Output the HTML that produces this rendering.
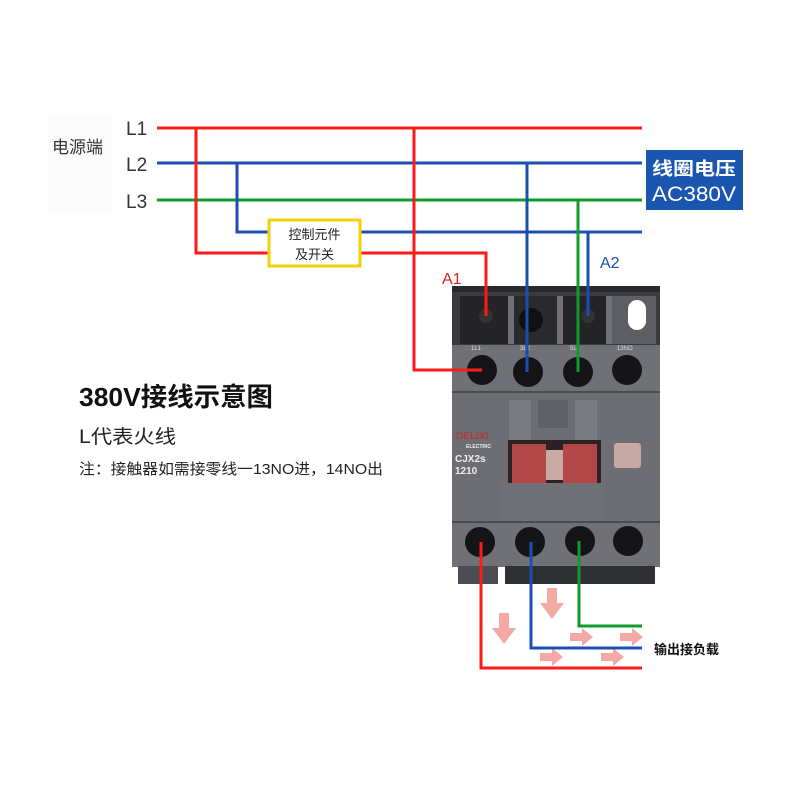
<!DOCTYPE html>
<html><head><meta charset="utf-8"><style>
html,body{margin:0;padding:0;background:#fff;}
svg{display:block;}
text{font-family:"Liberation Sans","Noto Sans CJK SC",sans-serif;}
</style></head><body>
<svg width="800" height="800" viewBox="0 0 800 800" xmlns="http://www.w3.org/2000/svg">
<rect width="800" height="800" fill="#fff"/>
<rect x="48" y="115" width="64" height="98" fill="#fbfbfb"/>
<text x="52" y="153" font-size="17" fill="#333">电源端</text>
<text x="126" y="135" font-size="19" fill="#333">L1</text>
<text x="126" y="171" font-size="19" fill="#333">L2</text>
<text x="126" y="208" font-size="19" fill="#333">L3</text>

<g>
<rect x="452" y="286" width="208" height="8" fill="#2a2a2c"/>
<rect x="452" y="292" width="208" height="54" fill="#3a3b3f"/>
<rect x="460" y="296" width="50" height="48" fill="#242427"/>
<rect x="508" y="296" width="6" height="48" fill="#707177"/>
<rect x="514" y="296" width="45" height="48" fill="#2a2a2d"/>
<rect x="557" y="296" width="6" height="48" fill="#707177"/>
<rect x="563" y="296" width="45" height="48" fill="#242427"/>
<rect x="606" y="296" width="6" height="48" fill="#707177"/>
<rect x="612" y="296" width="44" height="48" fill="#5d5e63"/>
<rect x="628" y="300" width="18" height="30" rx="9" fill="#fff"/>
<circle cx="531" cy="320" r="12" fill="#111"/>
<circle cx="486" cy="316" r="7" fill="#333"/>
<circle cx="588" cy="316" r="7" fill="#333"/>
<rect x="452" y="345" width="208" height="48" fill="#707177"/>
<text x="471" y="350" font-size="6" fill="#ddd">1L1</text>
<text x="520" y="350" font-size="6" fill="#ddd">3L2</text>
<text x="570" y="350" font-size="6" fill="#ddd">5L3</text>
<text x="617" y="350" font-size="6" fill="#ddd">13NO</text>
<circle cx="482" cy="370" r="15" fill="#151518"/>
<circle cx="528" cy="372" r="15" fill="#151518"/>
<circle cx="578" cy="372" r="15" fill="#151518"/>
<circle cx="627" cy="370" r="15" fill="#151518"/>
<rect x="452" y="392" width="208" height="130" fill="#6d6e73"/>
<line x1="452" y1="392" x2="660" y2="392" stroke="#4a4b4f" stroke-width="2"/>
<rect x="538" y="400" width="30" height="28" fill="#5f6065"/>
<rect x="509" y="400" width="22" height="45" fill="#7a7b80"/>
<rect x="575" y="400" width="22" height="45" fill="#7a7b80"/>
<rect x="508" y="440" width="93" height="44" fill="#2a2223"/>
<rect x="512" y="444" width="34" height="40" fill="#b2474a"/>
<rect x="563" y="444" width="34" height="40" fill="#b2474a"/>
<rect x="546" y="450" width="17" height="30" fill="#c9a9a3"/>
<rect x="500" y="483" width="105" height="38" fill="#707176"/>
<rect x="614" y="443" width="27" height="25" rx="3" fill="#c7a8a2"/>
<text x="456" y="439" font-size="10" font-weight="bold" fill="#b23a38">DELIXI</text>
<text x="466" y="448" font-size="5" font-weight="bold" fill="#eee">ELECTRIC</text>
<text x="455" y="462" font-size="10" font-weight="bold" fill="#eee">CJX2s</text>
<text x="455" y="474" font-size="10" font-weight="bold" fill="#eee">1210</text>
<rect x="452" y="521" width="208" height="46" fill="#707177"/>
<line x1="452" y1="522" x2="660" y2="522" stroke="#4a4b4f" stroke-width="2"/>
<circle cx="480" cy="542" r="15" fill="#151518"/>
<circle cx="530" cy="542" r="15" fill="#151518"/>
<circle cx="580" cy="541" r="15" fill="#151518"/>
<circle cx="628" cy="541" r="15" fill="#151518"/>
<rect x="458" y="566" width="40" height="18" fill="#4c4d52"/>
<rect x="505" y="566" width="150" height="18" fill="#2e2f33"/>
</g>

<g fill="#f4a9a4">
<path d="M499 613h10v15h7l-12 16-12-16h7z"/>
<path d="M547 588h10v15h7l-12 16-12-16h7z"/>
<path d="M570 633h12v-5l11 9-11 9v-5h-12z"/>
<path d="M620 633h12v-5l11 9-11 9v-5h-12z"/>
<path d="M540 653h12v-5l11 9-11 9v-5h-12z"/>
<path d="M601 653h12v-5l11 9-11 9v-5h-12z"/>
</g>

<g fill="none" stroke-width="3">
<path d="M157 128H642" stroke="#ff1a1a"/>
<path d="M157 163H642" stroke="#1a4fb0"/>
<path d="M157 200H642" stroke="#129a2a"/>
<path d="M196 128V253H268M360 253H486V316" stroke="#ff1a1a"/>
<path d="M237 163V232H268M360 232H642" stroke="#1a4fb0"/>
<path d="M414 128V370H482" stroke="#ff1a1a"/>
<path d="M527 163V372" stroke="#1a4fb0"/>
<path d="M578 200V372" stroke="#129a2a"/>
<path d="M588 232V316" stroke="#1a4fb0"/>
<path d="M481 542V668H642" stroke="#ff1a1a"/>
<path d="M531 542V648H642" stroke="#1a4fb0"/>
<path d="M579 541V626H642" stroke="#129a2a"/>
</g>

<rect x="269" y="220" width="91" height="46" fill="#fff" stroke="#f5d000" stroke-width="3"/>
<text x="314.5" y="239" font-size="13" fill="#222" text-anchor="middle">控制元件</text>
<text x="314.5" y="259" font-size="13" fill="#222" text-anchor="middle">及开关</text>

<text x="442" y="284" font-size="16" fill="#e02020">A1</text>
<text x="600" y="268" font-size="16" fill="#1a4fb0">A2</text>

<rect x="646" y="150" width="97" height="60" fill="#1a56b0"/>
<text x="652" y="175" font-size="18" font-weight="bold" fill="#fff" textLength="84" lengthAdjust="spacingAndGlyphs">线圈电压</text>
<text x="652" y="201" font-size="21" fill="#fff" textLength="84" lengthAdjust="spacingAndGlyphs">AC380V</text>

<text x="654" y="654" font-size="13" font-weight="bold" fill="#111">输出接负载</text>

<text x="79" y="406" font-size="26" font-weight="bold" fill="#111" textLength="194" lengthAdjust="spacingAndGlyphs">380V接线示意图</text>
<text x="79" y="443" font-size="19" fill="#222" textLength="97" lengthAdjust="spacingAndGlyphs">L代表火线</text>
<text x="79" y="474" font-size="15" fill="#222" textLength="304" lengthAdjust="spacingAndGlyphs">注：接触器如需接零线一13NO进，14NO出</text>
</svg>
</body></html>
